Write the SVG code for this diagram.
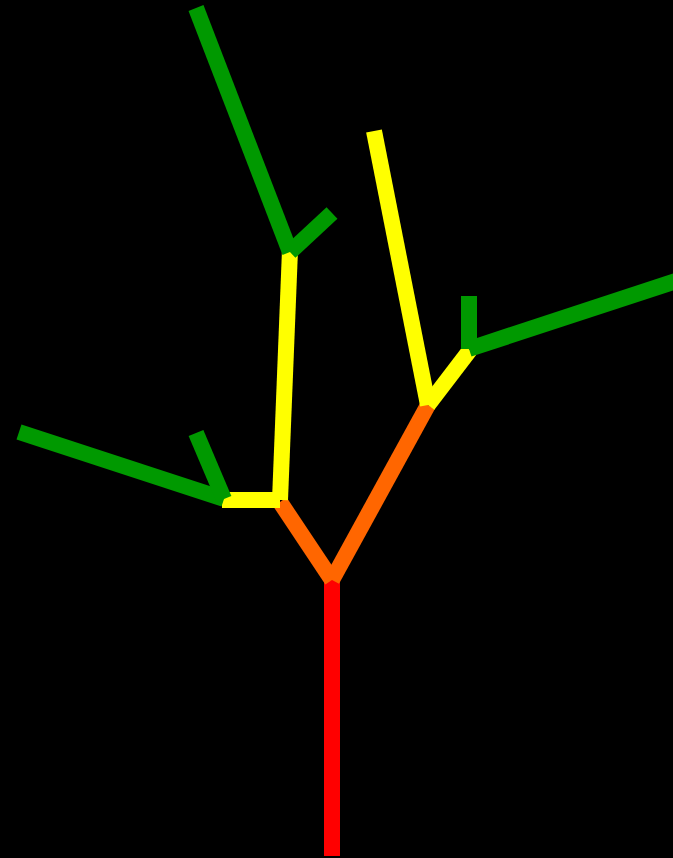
<svg xmlns="http://www.w3.org/2000/svg" width="673" height="858" viewBox="0 0 673 858">
<style>
line{stroke-width:16;stroke-linecap:butt}
.r{stroke:#FF0000}.o{stroke:#FF6600}.y{stroke:#FFFF00}.g{stroke:#009900}
</style>
<rect width="673" height="858" fill="#000"/>
<line class="r" x1="332" y1="856" x2="332" y2="580"/>
<line class="o" x1="332" y1="580" x2="280" y2="502"/>
<line class="o" x1="332" y1="580" x2="428" y2="405"/>
<line class="y" x1="280" y1="500" x2="290" y2="250"/>
<line class="y" x1="280" y1="500" x2="222" y2="500"/>
<line class="y" x1="428" y1="405" x2="374" y2="131"/>
<line class="y" x1="428" y1="405" x2="470" y2="350"/>
<line class="g" x1="290" y1="252" x2="196" y2="8"/>
<line class="g" x1="290" y1="252" x2="332" y2="213"/>
<line class="g" x1="224" y1="499" x2="19" y2="432"/>
<line class="g" x1="224" y1="499" x2="196" y2="433"/>
<line class="g" x1="469" y1="349" x2="469" y2="296"/>
<line class="g" x1="469" y1="349" x2="676" y2="281"/>
</svg>
